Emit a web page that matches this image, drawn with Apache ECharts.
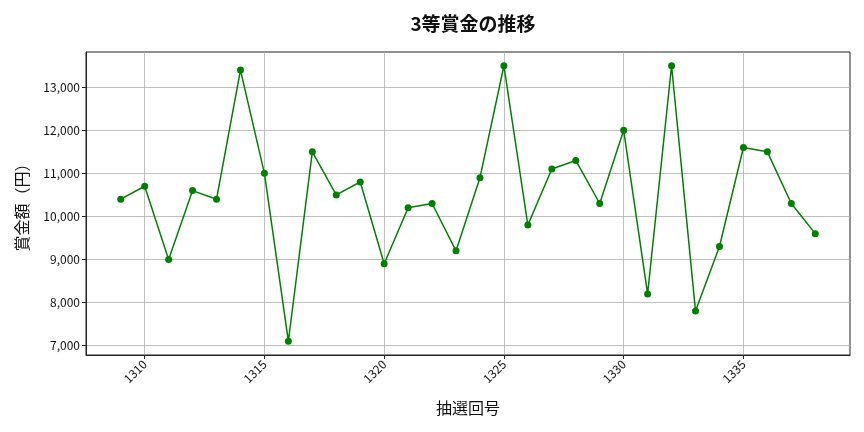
<!DOCTYPE html>
<html>
<head>
<meta charset="utf-8">
<script src="https://cdn.jsdelivr.net/npm/echarts@6/dist/echarts.min.js"></script>
<style>
  html, body { margin: 0; padding: 0; background: #fff; }
  #chart { width: 864px; height: 432px; }
</style>
</head>
<body>
<div id="chart"></div>
<script>
// 抽選回号
var rounds = [1309, 1310, 1311, 1312, 1313, 1314, 1315, 1316, 1317, 1318,
              1319, 1320, 1321, 1322, 1323, 1324, 1325, 1326, 1327, 1328,
              1329, 1330, 1331, 1332, 1333, 1334, 1335, 1336, 1337, 1338];
// 賞金額（円）
var prizes = [10400, 10700, 9000, 10600, 10400, 13400, 11000, 7100, 11500, 10500,
              10800, 8900, 10200, 10300, 9200, 10900, 13500, 9800, 11100, 11300,
              10300, 12000, 8200, 13500, 7800, 9300, 11600, 11500, 10300, 9600];
var xTicks = [1310, 1315, 1320, 1325, 1330, 1335];
var yTicks = [7000, 8000, 9000, 10000, 11000, 12000, 13000];

(function () {
    var myChart = echarts.init(document.getElementById('chart'))
    var font = '"Noto Sans CJK JP", "Noto Sans", sans-serif'

    var points = rounds.map(function (r, i) { return [r, prizes[i]] })

    var option = {
        animation: false,
        title: {
            text: '3等賞金の推移',
            left: 468,
            top: 9,
            textAlign: 'center',
            textStyle: { fontFamily: font, fontSize: 19, fontWeight: 'bold', color: '#111' }
        },
        grid: {
            left: 86,
            right: 14,
            top: 52,
            bottom: 77,
            show: true,
            borderColor: '#222',
            borderWidth: 1
        },
        xAxis: {
            type: 'value',
            min: 1307.55,
            max: 1339.45,
            name: '抽選回号',
            nameLocation: 'middle',
            nameGap: 45,
            nameTextStyle: { fontFamily: font, fontSize: 16, color: '#111' },
            axisLine: { show: true, onZero: false, lineStyle: { color: '#222', width: 1 } },
            axisTick: { show: true, length: 4, lineStyle: { color: '#222' }, customValues: xTicks },
            axisLabel: {
                customValues: xTicks,
                rotate: 45,
                margin: 7,
                fontFamily: font,
                fontSize: 12,
                color: '#111',
                formatter: function (v) { return String(v) }
            },
            splitLine: { show: true, lineStyle: { color: '#b0b0b0', width: 0.8 } }
        },
        yAxis: {
            type: 'value',
            min: 6780,
            max: 13820,
            name: '賞金額（円）',
            nameLocation: 'middle',
            nameGap: 56,
            nameTextStyle: { fontFamily: font, fontSize: 16, color: '#111' },
            axisLine: { show: true, lineStyle: { color: '#222', width: 1 } },
            axisTick: { show: true, length: 4, lineStyle: { color: '#222' }, customValues: yTicks },
            axisLabel: {
                customValues: yTicks,
                margin: 6,
                fontFamily: font,
                fontSize: 12,
                color: '#111',
                formatter: function (v) { return v.toLocaleString('en-US') }
            },
            splitLine: { show: true, lineStyle: { color: '#b0b0b0', width: 0.8 } }
        },
        series: [
            {
                type: 'line',
                data: points,
                symbol: 'circle',
                symbolSize: 7,
                lineStyle: { color: '#008000', width: 1.5 },
                itemStyle: { color: '#008000' }
            }
        ]
    }

    myChart.setOption(option)

    window.addEventListener('resize', function () {
        myChart.resize()
    })
})();
</script>
</body>
</html>
